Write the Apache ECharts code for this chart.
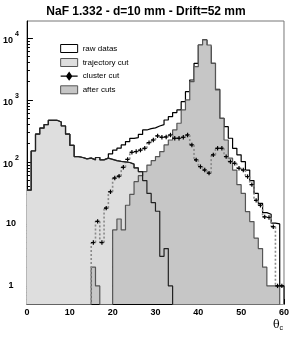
<!DOCTYPE html>
<html>
<head>
<meta charset="utf-8">
<script src="https://cdn.jsdelivr.net/npm/echarts@6/dist/echarts.min.js"></script>
<style>
html,body{margin:0;padding:0;background:#fff;}
#chart{width:292px;height:338px;}
</style>
</head>
<body>
<div id="chart"></div>
<script>
// ---- data (60 bins of width 1, theta_c from 0 to 60) ----
const titleText = 'NaF 1.332 - d=10 mm - Drift=52 mm';
const binEdges = [0,1,2,3,4,5,6,7,8,9,10,11,12,13,14,15,16,17,18,19,20,21,22,23,24,25,26,27,28,29,30,31,32,33,34,35,36,37,38,39,40,41,42,43,44,45,46,47,48,49,50,51,52,53,54,55,56,57,58,59,60];
const seriesNames = ['raw datas', 'trajectory cut', 'cluster cut', 'after cuts'];

const rawDatas = [
  35, 150, 280, 350, 400, 470, 470, 440, 380, 280,
  185, 122, 118, 112, 115, 108, 118, 108, 115, 135,
  155, 167, 188, 213, 240, 247, 278, 328, 345, 355,
  380, 400, 475, 538, 625, 690, 940, 1360, 2100, 3900,
  7710, 9290, 7240, 3900, 1490, 506, 371, 241, 166, 130,
  101, 74, 50, 31, 21.5, 15.2, 14.3, 10.3, 10, 1
];
const trajectoryCut = [
  35, 150, 280, 350, 400, 470, 470, 440, 380, 280,
  185, 122, 118, 112, 115, 108, 118, 108, 115, 110,
  105, 102, 100, 98, 92, 80, 70, 50, 31, 22,
  16, 3, 4, 1, 0, 0, 0, 0, 0, 0,
  0, 0, 0, 0, 0, 0, 0, 0, 0, 0,
  0, 0, 0, 0, 0, 0, 0, 0, 0, 0
];
const clusterCut = [
  0, 0, 0, 0, 0, 0, 0, 0, 0, 0,
  0, 0, 0, 0, 0, 5, 11, 5, 18, 33,
  55, 59, 82, 110, 143, 147, 155, 166, 205, 226,
  263, 250, 253, 272, 241, 241, 250, 272, 188, 108,
  84, 74, 66, 130, 166, 166, 122, 101, 95, 79,
  74, 58, 43, 24, 20, 13, 12.7, 9, 1, 1
];
const afterCuts = [
  0, 0, 0, 0, 0, 0, 0, 0, 0, 0,
  0, 0, 0, 0, 0, 2, 1, 0, 0, 0,
  8, 12, 8, 20, 30, 48, 60, 70, 89, 105,
  122, 147, 188, 226, 328, 421, 690, 1000, 1975, 3450,
  7710, 9290, 7710, 3900, 1450, 506, 226, 115, 74, 43,
  31, 15.8, 10.9, 5.9, 4, 2, 1, 1, 1, 0
];
const yMajorTicks = [1, 10, 100, 1000, 10000];
const yMinorMultipliers = [2, 3, 4, 5, 6, 7, 8, 9];
const xTickLabels = [0, 10, 20, 30, 40, 50, 60];

// ---- helpers ----
const yMin = 0.51, yMax = 18800;
const FONT = 'Liberation Sans';
const safe = v => (v > 0 ? v : yMin / 100);   // empty bins fall below the axis and are clipped

function stepData(bins) {
  const d = bins.map((v, k) => [binEdges[k], safe(v)]);
  d.push([binEdges[bins.length], safe(bins[bins.length - 1])]);
  d.push([binEdges[bins.length], safe(0)]);
  return d;
}
const yMinor = [];
[0.1, 1, 10, 100, 1000, 10000].forEach(dec => yMinorMultipliers.forEach(m => {
  const v = dec * m; if (v > yMin && v < yMax) yMinor.push(v);
}));

const clusterItems = [];
clusterCut.forEach((v, k) => {
  const prev = k > 0 ? clusterCut[k - 1] : 0;
  if (v > 0 || prev > 0) clusterItems.push([binEdges[k], v, prev]);
});

const LIGHT = '#dedede', MED = '#c6c6c6', EDGE = '#555555';

function histSeries(name, bins, fill, line, z) {
  return {
    name: name, type: 'line', step: 'end', data: stepData(bins),
    showSymbol: false, symbol: 'none', clip: true, z: z,
    lineStyle: { color: line, width: 1.2 },
    itemStyle: { color: line },
    areaStyle: fill ? { color: fill, opacity: 1, origin: 'start' } : undefined,
    emphasis: { disabled: true }
  };
}

const chart = echarts.init(document.getElementById('chart'), null, { renderer: 'canvas' });
const option = {
  animation: false,
  backgroundColor: '#fff',
  textStyle: { fontFamily: FONT },
  title: {
    text: titleText, left: 'center', top: 1,
    textStyle: { fontSize: 12, fontWeight: 'bold', color: '#000', fontFamily: FONT }
  },
  grid: { left: 25, top: 21, width: 260, height: 283, show: true, borderColor: '#777', borderWidth: 1, backgroundColor: 'transparent' },
  legend: {
    orient: 'vertical', left: 60, top: 44, padding: 0, itemWidth: 17, itemHeight: 8, itemGap: 5,
    textStyle: { fontSize: 8, color: '#000', fontFamily: FONT },
    selectedMode: false,
    data: [
      { name: seriesNames[0], icon: 'rect', itemStyle: { color: '#fff', borderColor: '#000', borderWidth: 1 } },
      { name: seriesNames[1], icon: 'rect', itemStyle: { color: LIGHT, borderColor: EDGE, borderWidth: 1 } },
      { name: seriesNames[2], icon: 'path://M0,4H6M11,4H17M8.5,0.5L11,4L8.5,7.5L6,4Z', itemStyle: { color: '#000', borderColor: '#000', borderWidth: 1.3 } },
      { name: seriesNames[3], icon: 'rect', itemStyle: { color: MED, borderColor: EDGE, borderWidth: 1 } }
    ]
  },
  xAxis: {
    type: 'value', min: 0, max: 60, interval: 10,
    name: '{t|θ}{c|c}', nameLocation: 'end', nameGap: -6,
    nameTextStyle: { align: 'center', verticalAlign: 'top', padding: [15, 0, 0, 0],
      rich: { t: { fontSize: 11, fontFamily: 'DejaVu Serif', color: '#000' }, c: { fontSize: 7, fontFamily: FONT, color: '#000', padding: [6, 0, 0, 0] } } },
    axisLine: { show: true, lineStyle: { color: '#000', width: 1 } },
    axisTick: { show: true, inside: true, length: 5, lineStyle: { color: '#000' } },
    minorTick: { show: true, splitNumber: 5, length: 3, lineStyle: { color: '#000' } },
    splitLine: { show: false },
    axisLabel: { margin: 4, fontSize: 9, fontWeight: 'bold', color: '#000', fontFamily: FONT,
      customValues: xTickLabels }
  },
  yAxis: [{
    type: 'log', logBase: 10, min: yMin, max: yMax,
    axisLine: { show: true, lineStyle: { color: '#000', width: 1 } },
    axisTick: { show: true, inside: true, length: 6, lineStyle: { color: '#000' }, customValues: yMajorTicks },
    splitLine: { show: false },
    axisLabel: {
      customValues: yMajorTicks, align: 'center', margin: 16,
      fontSize: 9, fontWeight: 'bold', color: '#000', fontFamily: FONT,
      formatter: v => {
        const e = Math.round(Math.log10(v));
        if (e === 0) return '1';
        if (e === 1) return '10';
        return '{b|10}{s|' + e + '}';
      },
      rich: {
        b: { fontSize: 9, fontWeight: 'bold', fontFamily: FONT, color: '#000', lineHeight: 14, verticalAlign: 'bottom' },
        s: { fontSize: 7, fontWeight: 'bold', fontFamily: FONT, color: '#000', lineHeight: 14, verticalAlign: 'top', padding: [0, 0, 0, 2] }
      }
    }
  }, {
    type: 'log', logBase: 10, min: yMin, max: yMax, position: 'left',
    axisLine: { show: false },
    axisTick: { show: true, inside: true, length: 3, lineStyle: { color: '#000' }, customValues: yMinor },
    axisLabel: { show: false },
    splitLine: { show: false }
  }],
  series: [
    histSeries(seriesNames[0], rawDatas, '#ffffff', '#000000', 1),
    histSeries(seriesNames[1], trajectoryCut, LIGHT, EDGE, 2),
    histSeries(seriesNames[3], afterCuts, MED, EDGE, 3),
    {
      name: seriesNames[2], type: 'custom', z: 4, clip: true,
      data: clusterItems, encode: { x: 0, y: 1 },
      itemStyle: { color: '#000' },
      renderItem: function (params, api) {
        const k = api.value(0), v = api.value(1), prev = api.value(2);
        const pPrev = api.coord([k, prev > 0 ? prev : yMin]);
        const pCur = api.coord([k, v > 0 ? v : yMin]);
        const children = [{
          type: 'line', shape: { x1: pPrev[0], y1: pPrev[1], x2: pCur[0], y2: pCur[1] },
          style: { stroke: '#8a8a8a', lineWidth: 1.6, lineDash: [2, 2] }
        }];
        if (v > 0) {
          const pEnd = api.coord([k + 1, v]);
          const c = api.coord([k + 0.5, v]);
          children.push({ type: 'line', shape: { x1: pCur[0], y1: pCur[1], x2: pEnd[0], y2: pEnd[1] },
            style: { stroke: '#000', lineWidth: 1, lineDash: [3, 2] } });
          children.push({ type: 'line', shape: { x1: c[0] - 2.2, y1: c[1], x2: c[0] + 2.2, y2: c[1] }, style: { stroke: '#000', lineWidth: 1.2 } });
          children.push({ type: 'line', shape: { x1: c[0], y1: c[1] - 2.2, x2: c[0], y2: c[1] + 2.2 }, style: { stroke: '#000', lineWidth: 1.2 } });
        }
        return { type: 'group', children: children };
      }
    },
    Object.assign(histSeries('trajectory outline', trajectoryCut, null, '#222', 5), { areaStyle: undefined })
  ]
};
chart.setOption(option);
</script>
</body>
</html>
